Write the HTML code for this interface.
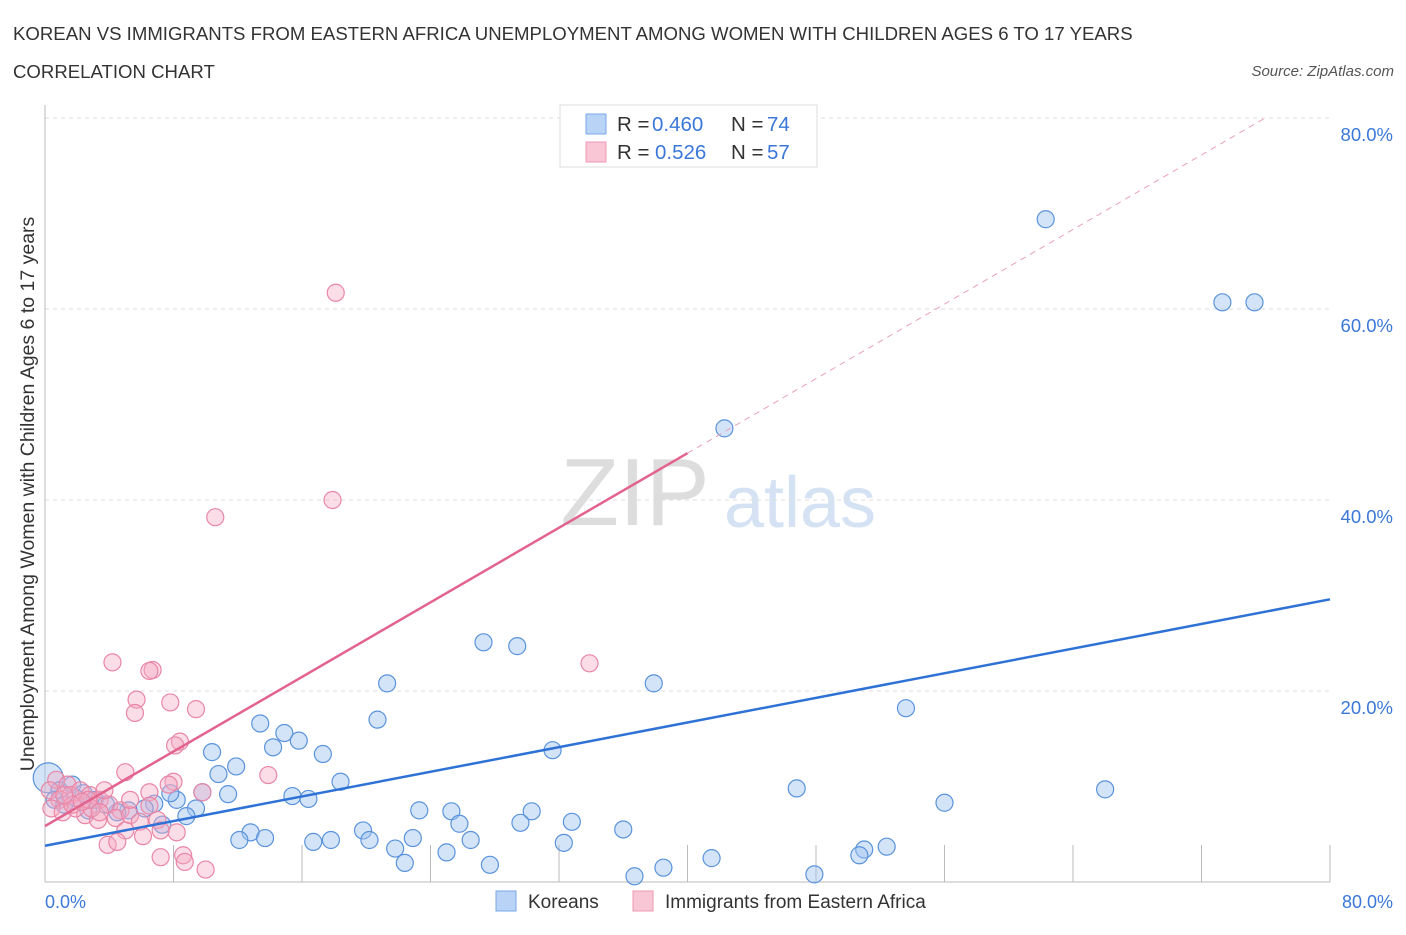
<!DOCTYPE html>
<html><head><meta charset="utf-8"><style>
body{margin:0;background:#fff;font-family:"Liberation Sans",sans-serif;}
svg text{font-family:"Liberation Sans",sans-serif;}
</style></head><body>
<svg id="c" width="1406" height="930" xmlns="http://www.w3.org/2000/svg">
<text x="13" y="40" font-size="18.6" fill="#333">KOREAN VS IMMIGRANTS FROM EASTERN AFRICA UNEMPLOYMENT AMONG WOMEN WITH CHILDREN AGES 6 TO 17 YEARS</text>
<text x="13" y="78" font-size="18.6" fill="#333">CORRELATION CHART</text>
<text x="1394" y="76" font-size="15" fill="#555" font-style="italic" text-anchor="end">Source: ZipAtlas.com</text>
<text x="635" y="525" font-size="96" fill="#ddd" font-family="Liberation Serif" text-anchor="middle">ZIP</text>
<text x="800" y="527" font-size="72" fill="#d4e2f4" text-anchor="middle">atlas</text>
<g id="grid"></g>
<g id="axes"></g>
<g id="pts"></g>
<g id="lines"></g>
<text transform="translate(34,494) rotate(-90)" font-size="19.5" fill="#333" text-anchor="middle">Unemployment Among Women with Children Ages 6 to 17 years</text>
<text x="45" y="908" font-size="18" fill="#3b78d8">0.0%</text>
<text x="1393" y="908" font-size="18" fill="#3b78d8" text-anchor="end">80.0%</text>
<g>
<rect x="560" y="105" width="257" height="62" fill="#fff" stroke="#ddd"/>
<rect x="586" y="114" width="20" height="20" fill="#b8d3f5" stroke="#7aa7e6"/>
<text x="617" y="131" font-size="20.5" fill="#333">R =</text><text x="652" y="131" font-size="20.5" fill="#3b78d8">0.460</text>
<text x="731" y="131" font-size="20.5" fill="#333">N =</text><text x="767" y="131" font-size="20.5" fill="#3b78d8">74</text>
<rect x="586" y="142" width="20" height="20" fill="#f8c6d5" stroke="#ee9ab3"/>
<text x="617" y="159" font-size="20.5" fill="#333">R =</text><text x="655" y="159" font-size="20.5" fill="#3b78d8">0.526</text>
<text x="731" y="159" font-size="20.5" fill="#333">N =</text><text x="767" y="159" font-size="20.5" fill="#3b78d8">57</text>
</g>
<g><rect x="496" y="891" width="20" height="20" fill="#b8d3f5" stroke="#7aa7e6"/><text x="528" y="908" font-size="19" fill="#333">Koreans</text></g>
<g><rect x="633" y="891" width="20" height="20" fill="#f8c6d5" stroke="#ee9ab3"/><text x="665" y="908" font-size="19" fill="#333">Immigrants from Eastern Africa</text></g>
</svg>
<script>
const yTicks=[20,40,60,80];
const yTickLabels=["20.0%","40.0%","60.0%","80.0%"];
const xTicks=[8,16,24,32,40,48,56,64,72,80];
const koreanX=[0.2,62.3,73.3,75.3,42.3,27.3,29.4,21.3,37.9,53.6,20.7,13.4,14.9,15.8,14.2,10.4,17.3,31.6,11.9,10.8,18.4,46.8,66.0,56.0,11.4,15.4,16.4,9.8,8.2,7.8,9.4,6.8,6.2,5.2,8.8,4.5,7.3,23.3,25.3,30.3,29.6,25.8,32.8,19.8,36.0,12.8,13.7,12.1,16.7,17.8,20.2,22.9,26.5,21.8,32.3,25.0,52.4,51.0,50.7,22.4,27.7,41.5,38.5,36.7,47.9,0.9,1.7,2.4,3.1,0.6,1.2,2.7,3.8,1.9];
const koreanY=[10.9,69.4,60.7,60.7,47.5,25.1,24.7,20.8,20.8,18.2,17.0,16.6,15.6,14.8,14.1,13.6,13.4,13.8,12.1,11.3,10.5,9.8,9.7,8.3,9.2,9.0,8.7,9.4,8.6,9.3,7.7,8.2,7.7,7.5,6.9,7.3,6.0,7.5,7.4,7.4,6.2,6.1,6.3,5.4,5.5,5.2,4.6,4.4,4.2,4.4,4.4,4.6,4.4,3.5,4.1,3.1,3.7,3.4,2.8,2.0,1.8,2.5,1.5,0.6,0.8,9.6,10.2,9.3,8.6,8.6,8.1,7.5,8.1,8.8];
const immX=[18.1,17.9,10.6,4.2,6.7,6.5,33.9,5.7,5.6,7.8,9.4,8.4,8.1,5.0,13.9,8.0,6.5,7.7,9.8,0.7,1.4,0.3,0.9,1.6,2.2,2.8,3.4,4.0,4.7,0.4,1.1,2.5,3.3,4.4,5.3,5.9,7.0,1.9,3.7,2.9,5.0,7.2,8.2,6.1,3.9,4.5,7.2,8.6,8.7,10.0,2.7,1.7,3.4,5.3,6.5,1.2,2.3];
const immY=[61.7,40.0,38.2,23.0,22.2,22.1,22.9,19.1,17.7,18.8,18.1,14.7,14.3,11.5,11.2,10.5,9.4,10.2,9.4,10.7,10.2,9.6,8.6,9.1,9.6,9.1,8.6,8.1,7.5,7.7,7.3,7.0,6.5,6.7,7.0,6.3,6.5,7.7,9.6,7.7,5.4,5.4,5.2,4.8,3.9,4.2,2.6,2.8,2.1,1.3,8.6,8.1,7.3,8.6,8.0,9.1,8.4];
const koreanTrend=[3.8,29.6];   // y at x=0, x=80
const immTrend=[5.86,0.976];    // intercept, slope
const NS="http://www.w3.org/2000/svg";
const X=v=>45+v*1285/80, Y=v=>882-v*9.55;
function mk(tag,attrs,parent){const e=document.createElementNS(NS,tag);for(const k in attrs)e.setAttribute(k,attrs[k]);document.getElementById(parent).appendChild(e);return e;}
yTicks.forEach((t,i)=>{
 const l=mk('line',{x1:45,x2:1330,y1:Y(t),y2:Y(t),stroke:'#ddd','stroke-dasharray':'4,4'},'grid');
 
 
 const tx=mk('text',{x:1393,y:Y(t)+23,'font-size':18.5,fill:'#3b78d8','text-anchor':'end'},'grid');
 tx.textContent=yTickLabels[i];
 
 
});
const ax=mk('line',{x1:45,x2:1330,y1:882,y2:882,stroke:'#bbb'},'axes');


const ay=mk('line',{x1:45,x2:45,y1:105,y2:882,stroke:'#bbb'},'axes');


xTicks.forEach(t=>{
 const l=mk('line',{x1:X(t),x2:X(t),y1:845,y2:882,stroke:'#bbb'},'axes');
 
 
});
koreanX.forEach((v,i)=>{
 const c=mk('circle',{cx:X(v),cy:Y(koreanY[i]),r:i===0?15:8.5,fill:'rgba(160,196,240,0.45)',stroke:'#5a93dc','stroke-width':1.2},'pts');
 
 
});
immX.forEach((v,i)=>{
 const c=mk('circle',{cx:X(v),cy:Y(immY[i]),r:8.5,fill:'rgba(244,170,195,0.4)',stroke:'#e986a6','stroke-width':1.2},'pts');
 
 
});
const bl=mk('line',{x1:X(0),y1:Y(koreanTrend[0]),x2:X(80),y2:Y(koreanTrend[1]),stroke:'#2f72d6','stroke-width':2.5},'lines');


const pl=mk('line',{x1:X(0),y1:Y(immTrend[0]),x2:X(40),y2:Y(immTrend[0]+immTrend[1]*40),stroke:'#e2638d','stroke-width':2.5},'lines');


const pd=mk('line',{x1:X(40),y1:Y(immTrend[0]+immTrend[1]*40),x2:X(76),y2:Y(immTrend[0]+immTrend[1]*76),stroke:'#eaa0b8','stroke-width':1,'stroke-dasharray':'6,5'},'lines');


</script>
</body></html>
